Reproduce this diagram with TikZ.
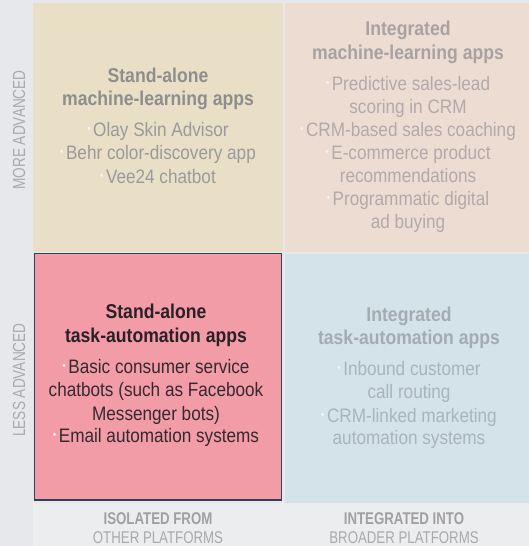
\documentclass[tikz,border=0pt]{standalone}
\usepackage{fontspec}
\setmainfont{Liberation Sans}
\newfontfamily\bodyf{Liberation Sans}[FakeStretch=0.88]
\newfontfamily\capf{Liberation Sans}[FakeStretch=0.78]
\definecolor{stripbg}{HTML}{E6E8EC}
\definecolor{botbg}{HTML}{ECEDEF}
\definecolor{tlbg}{HTML}{E8DFC6}
\definecolor{trbg}{HTML}{EDDCD2}
\definecolor{brbg}{HTML}{D4E2EA}
\definecolor{blbg}{HTML}{F29CA8}
\definecolor{blborder}{HTML}{33405A}
\definecolor{tltitle}{HTML}{8E8E8E}
\definecolor{tltext}{HTML}{9A9A9A}
\definecolor{trtitle}{HTML}{A9A2A1}
\definecolor{trtext}{HTML}{B2AAA9}
\definecolor{brtitle}{HTML}{A2ACB2}
\definecolor{brtext}{HTML}{A9B4BB}
\definecolor{bltitle}{HTML}{2A2025}
\definecolor{bltext}{HTML}{35292D}
\definecolor{axislab}{HTML}{A8AAAD}
\definecolor{botlab}{HTML}{A0A0A3}
\definecolor{botlab2}{HTML}{AAAAAD}
\newcommand\qbul[1]{{\color{#1}\raisebox{0.3ex}{\fontsize{11}{11}\selectfont •}}\hspace{2.5pt}}
\begin{document}
\begin{tikzpicture}[x=1pt,y=-1pt,
  ttl/.style={anchor=base, inner sep=0pt, font=\bodyf\bfseries\fontsize{20}{22}\selectfont},
  bdy/.style={anchor=base, inner sep=0pt, font=\bodyf\fontsize{19.5}{22}\selectfont},
  axl/.style={anchor=base, inner sep=0pt, rotate=90, text=axislab, font=\capf\fontsize{17.5}{18}\selectfont},
  blab/.style={anchor=base, inner sep=0pt, text=botlab, font=\capf\bfseries\fontsize{17}{18}\selectfont},
  blab2/.style={anchor=base, inner sep=0pt, text=botlab2, font=\capf\fontsize{17}{18}\selectfont}]
\useasboundingbox (0,0) rectangle (529,546);
% backgrounds
\fill[stripbg] (0,0) rectangle (529,546);
\fill[botbg] (33,503) rectangle (529,546);
\fill[tlbg] (33,3) rectangle (283,252);
\fill[trbg] (285,3) rectangle (529,252);
\fill[brbg] (285,254) rectangle (529,503);
\filldraw[fill=blbg, draw=blborder, line width=1.2pt] (34.5,253.5) rectangle (281.5,500);

% axis labels
\node[axl] (more) at (25,130) {MORE ADVANCED};
\node[axl] (less) at (25,380) {LESS ADVANCED};

% top-left quadrant
\node[ttl, text=tltitle] (tl1) at (158,82) {Stand-alone};
\node[ttl, text=tltitle] (tl2) at (158,105) {machine-learning apps};
\node[bdy, text=tltext] (tl3) at (158,136) {\qbul{white!70!tlbg}Olay Skin Advisor};
\node[bdy, text=tltext] (tl4) at (158,159) {\qbul{white!70!tlbg}Behr color-discovery app};
\node[bdy, text=tltext] (tl5) at (158,183) {\qbul{white!70!tlbg}Vee24 chatbot};

% top-right quadrant
\node[ttl, text=trtitle] (tr1) at (408,35) {Integrated};
\node[ttl, text=trtitle] (tr2) at (408,59) {machine-learning apps};
\node[bdy, text=trtext] (tr3) at (408,90) {\qbul{white!60!trbg}Predictive sales-lead};
\node[bdy, text=trtext] (tr4) at (408,113) {scoring in CRM};
\node[bdy, text=trtext] (tr5) at (408,136) {\qbul{white!60!trbg}CRM-based sales coaching};
\node[bdy, text=trtext] (tr6) at (408,159) {\qbul{white!60!trbg}E-commerce product};
\node[bdy, text=trtext] (tr7) at (408,182) {recommendations};
\node[bdy, text=trtext] (tr8) at (408,205) {\qbul{white!60!trbg}Programmatic digital};
\node[bdy, text=trtext] (tr9) at (408,228) {ad buying};

% bottom-left quadrant (highlighted)
\node[ttl, text=bltitle] (bl1) at (156,318) {Stand-alone};
\node[ttl, text=bltitle] (bl2) at (156,342) {task-automation apps};
\node[bdy, text=bltext] (bl3) at (156,373) {\qbul{white!85!blbg}Basic consumer service};
\node[bdy, text=bltext] (bl4) at (156,396) {chatbots (such as Facebook};
\node[bdy, text=bltext] (bl5) at (156,420) {Messenger bots)};
\node[bdy, text=bltext] (bl6) at (156,442) {\qbul{white!85!blbg}Email automation systems};

% bottom-right quadrant
\node[ttl, text=brtitle] (br1) at (409,321) {Integrated};
\node[ttl, text=brtitle] (br2) at (409,344) {task-automation apps};
\node[bdy, text=brtext] (br3) at (409,375) {\qbul{white!70!brbg}Inbound customer};
\node[bdy, text=brtext] (br4) at (409,398) {call routing};
\node[bdy, text=brtext] (br5) at (409,422) {\qbul{white!70!brbg}CRM-linked marketing};
\node[bdy, text=brtext] (br6) at (409,444) {automation systems};

% bottom axis labels
\node[blab] (iso1) at (158,524) {ISOLATED FROM};
\node[blab2] (iso2) at (158,543) {OTHER PLATFORMS};
\node[blab] (int1) at (404,524) {INTEGRATED INTO};
\node[blab2] (int2) at (404,543) {BROADER PLATFORMS};
\end{tikzpicture}
\end{document}
